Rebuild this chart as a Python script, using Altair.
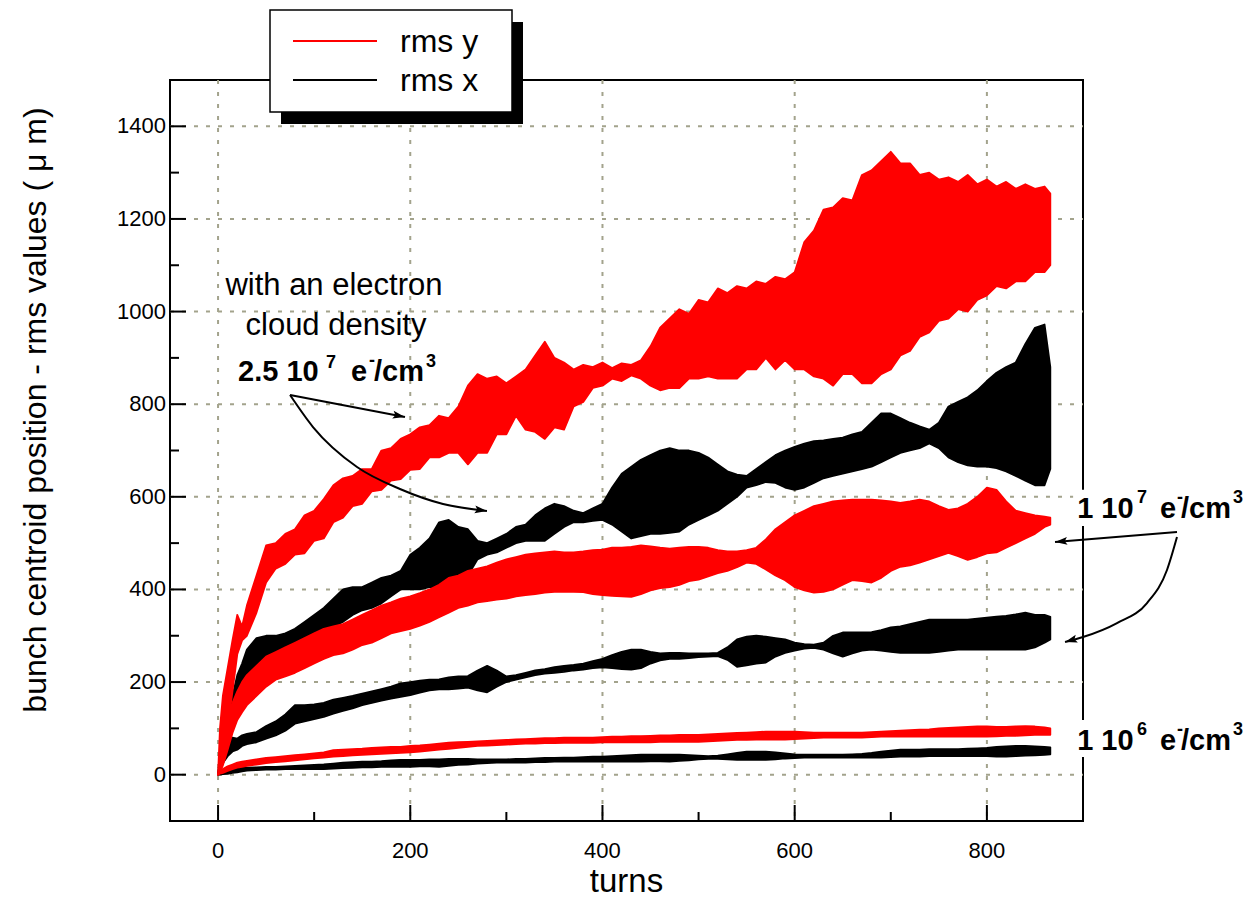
import altair as alt
import pandas as pd

FONT = "Liberation Sans, Arial, sans-serif"
GRID = "#a3a38c"

# ---------------- data ----------------
turns = [0, 2, 5, 10, 15, 20, 25, 30] + list(range(40, 861, 10)) + [866]

# rms y, 2.5e7 e-/cm3 (red, upper band)
ry25_hi = [0, 100, 170, 230, 290, 345, 320, 365,
           430, 495, 500, 520, 530, 560, 570, 595, 625, 640,
           645, 660, 660, 700, 705, 725, 735, 750, 755, 775,
           770, 795, 840, 865, 855, 860, 845, 860, 875, 905,
           935, 900, 890, 875, 885, 880, 890, 878, 888, 885,
           895, 925, 965, 985, 1005, 995, 1025, 1020, 1050, 1040,
           1055, 1050, 1065, 1060, 1075, 1070, 1085, 1150, 1175, 1220,
           1225, 1245, 1240, 1295, 1305, 1325, 1345, 1320, 1320, 1295,
           1300, 1285, 1290, 1280, 1295, 1275, 1285, 1270, 1280, 1265,
           1275, 1265, 1270, 1255]
ry25_lo = [0, 40, 70, 100, 180, 260, 290, 300,
           350, 415, 445, 455, 475, 478, 505, 510, 545, 555,
           580, 585, 612, 615, 635, 638, 658, 660, 685, 685,
           695, 695, 670, 695, 695, 735, 735, 775, 745, 740,
           725, 750, 745, 795, 805, 835, 840, 855, 850, 862,
           855, 840, 830, 835, 835, 855, 855, 860, 855, 855,
           855, 875, 875, 900, 875, 895, 875, 875, 860, 855,
           840, 865, 865, 845, 845, 865, 875, 905, 915, 945,
           955, 980, 985, 1005, 1000, 1025, 1035, 1055, 1050, 1065,
           1065, 1085, 1085, 1100]

# rms x, 2.5e7 (black, upper band)
rx25_hi = [0, 40, 80, 130, 170, 215, 240, 270,
           295, 300, 300, 305, 315, 330, 345, 360, 380, 400,
           405, 405, 415, 425, 430, 440, 475, 490, 510, 545,
           550, 535, 530, 505, 500, 510, 520, 535, 540, 560,
           575, 585, 580, 570, 565, 575, 585, 620, 650, 665,
           680, 690, 700, 705, 700, 700, 695, 685, 670, 655,
           648, 645, 660, 675, 690, 700, 708, 715, 720, 722,
           725, 728, 735, 740, 760, 780, 780, 770, 760, 752,
           745, 760, 795, 805, 815, 830, 850, 868, 880, 890,
           930, 965, 972, 880]
rx25_lo = [0, 10, 25, 50, 100, 145, 170, 200,
           225, 250, 260, 268, 275, 290, 305, 315, 320, 330,
           345, 355, 360, 370, 385, 400, 400, 400, 405, 405,
           408, 420, 430, 465, 475, 480, 490, 500, 505, 505,
           505, 520, 535, 545, 545, 548, 550, 540, 525, 510,
           515, 520, 520, 522, 525, 540, 550, 560, 570, 585,
           600, 620, 625, 632, 630, 620, 615, 620, 630, 640,
           645, 650, 655, 660, 665, 675, 685, 695, 700, 705,
           715, 705, 685, 675, 668, 665, 665, 662, 655, 645,
           635, 625, 625, 660]

# rms y, 1e7 (red, middle band)
ry10_hi = [0, 25, 60, 125, 155, 180, 200, 215,
           235, 255, 265, 275, 285, 295, 305, 315, 320, 325,
           335, 345, 355, 365, 372, 380, 385, 392, 400, 410,
           425, 430, 440, 445, 450, 458, 465, 470, 475, 478,
           480, 482, 480, 480, 482, 485, 486, 490, 490, 492,
           495, 493, 490, 488, 490, 492, 492, 490, 485, 482,
           482, 485, 490, 508, 530, 545, 560, 570, 580, 585,
           590, 592, 594, 594, 594, 592, 590, 587, 590, 594,
           590, 580, 572, 575, 585, 600, 620, 615, 590, 570,
           565, 560, 557, 555]
ry10_lo = [0, 5, 20, 54, 90, 118, 135, 150,
           170, 190, 205, 212, 220, 230, 240, 250, 258, 262,
           270, 280, 285, 295, 305, 310, 315, 322, 330, 340,
           350, 360, 365, 372, 375, 378, 380, 385, 388, 390,
           393, 395, 395, 395, 394, 390, 388, 386, 385, 384,
           390, 398, 403, 405, 410, 418, 421, 428, 435, 440,
           448, 458, 455, 443, 430, 420, 405, 398, 393, 395,
           400, 410, 420, 418, 415, 425, 440, 449, 452, 458,
           465, 472, 479, 472, 464, 470, 478, 480, 490, 500,
           510, 520, 535, 540]

# rms x, 1e7 (black, middle band)
rx10_hi = [0, 39, 55, 76, 80, 78, 85, 88,
           92, 105, 115, 130, 150, 150, 152, 155, 162, 166,
           170, 175, 180, 185, 190, 197, 200, 203, 205, 206,
           210, 212, 213, 225, 235, 225, 212, 215, 220, 225,
           228, 232, 235, 237, 240, 245, 250, 258, 265, 270,
           270, 265, 262, 263, 263, 262, 262, 262, 263, 275,
           292, 298, 300, 298, 295, 292, 285, 282, 281, 285,
           300, 307, 307, 307, 308, 312, 318, 320, 325, 330,
           335, 335, 335, 335, 335, 337, 339, 341, 343, 346,
           350, 345, 345, 341]
rx10_lo = [0, 11, 25, 40, 50, 54, 62, 66,
           70, 78, 85, 95, 110, 115, 120, 125, 132, 138,
           143, 150, 155, 160, 164, 168, 172, 177, 182, 184,
           184, 186, 188, 182, 178, 190, 200, 205, 210, 215,
           218, 220, 222, 225, 227, 230, 232, 230, 228, 227,
           230, 240, 247, 250, 250, 252, 254, 255, 256, 248,
           233, 236, 240, 242, 255, 263, 268, 272, 274, 270,
           262, 255, 262, 268, 270, 268, 265, 263, 263, 263,
           263, 265, 268, 270, 270, 270, 270, 270, 270, 270,
           270, 275, 285, 292]

# rms y, 1e6 (red, lower band)
ry06_hi = [0, 8, 12, 18, 22, 26, 28, 30,
           33, 36, 38, 40, 42, 44, 46, 48, 53, 54,
           55, 56, 58, 59, 60, 60, 62, 63, 65, 67,
           69, 70, 71, 72, 73, 74, 75, 76, 77, 78,
           79, 79, 80, 80, 80, 80, 81, 82, 82, 83,
           83, 84, 85, 85, 86, 86, 86, 87, 88, 89,
           90, 91, 92, 93, 93, 93, 93, 92, 91, 91,
           91, 91, 91, 91, 92, 93, 94, 95, 96, 97,
           98, 100, 101, 102, 103, 104, 104, 103, 103, 104,
           105, 104, 102, 100]
ry06_lo = [0, 2, 4, 8, 12, 15, 17, 19,
           22, 25, 27, 29, 31, 33, 35, 37, 39, 40,
           42, 43, 44, 45, 46, 47, 48, 50, 52, 54,
           56, 58, 60, 62, 63, 64, 65, 66, 67, 67,
           68, 68, 69, 69, 69, 69, 70, 70, 70, 70,
           70, 70, 71, 71, 71, 71, 71, 72, 73, 74,
           75, 75, 76, 76, 76, 76, 77, 78, 79, 80,
           80, 80, 80, 80, 81, 82, 82, 82, 82, 82,
           82, 82, 82, 82, 82, 82, 82, 83, 84, 84,
           85, 86, 86, 86]

# rms x, 1e6 (black, lower band)
rx06_hi = [0, 4, 6, 9, 12, 14, 15, 15,
           16, 17, 17, 18, 19, 20, 21, 22, 24, 26,
           27, 28, 28, 29, 31, 32, 32, 32, 33, 33,
           34, 34, 34, 33, 33, 33, 33, 34, 34, 35,
           36, 36, 37, 37, 38, 39, 39, 40, 41, 42,
           43, 43, 43, 43, 43, 42, 41, 40, 41, 44,
           47, 50, 50, 50, 48, 46, 44, 43, 43, 43,
           43, 43, 44, 45, 47, 50, 52, 54, 54, 54,
           55, 55, 55, 55, 56, 57, 58, 60, 61, 62,
           62, 61, 60, 59]
rx06_lo = [0, 0, 1, 2, 4, 5, 7, 9,
           10, 11, 11, 12, 12, 12, 12, 12, 13, 14,
           15, 16, 16, 17, 17, 17, 17, 18, 18, 17,
           19, 21, 22, 24, 25, 26, 26, 26, 26, 27,
           27, 28, 28, 28, 28, 28, 28, 28, 28, 28,
           28, 29, 29, 28, 30, 31, 33, 34, 34, 33,
           32, 32, 32, 32, 33, 35, 36, 37, 37, 37,
           37, 37, 37, 37, 37, 37, 38, 39, 39, 39,
           40, 40, 40, 40, 40, 40, 40, 39, 39, 40,
           41, 42, 43, 44]

x_major = [0, 200, 400, 600, 800]
x_minor = [100, 300, 500, 700]
y_major = [0, 200, 400, 600, 800, 1000, 1200, 1400]
y_minor = [100, 300, 500, 700, 900, 1100, 1300]
x_title = "turns"
y_title = "bunch centroid position - rms values  ( \u03bc m)"

legend_labels = ["rms y", "rms x"]
legend_colors = ["#ff0000", "#000000"]

# annotation texts (anchor positions in data units)
note_txt = ["with an electron", "cloud density"]
note_t = [120.6, 122.7]
note_v = [1036, 949]

bold_txt = ["2.5 10", "e", "/cm", "1 10", "e", "/cm", "1 10", "e", "/cm"]
bold_t = [20.8, 138.3, 162.3, 893.9, 980.1, 1002.0, 893.9, 980.1, 1002.0]
bold_v = [850, 850, 850, 554, 554, 554, 53, 53, 53]

sup_txt = ["7", "-", "3", "7", "-", "3", "6", "-", "3"]
sup_t = [112.3, 157.1, 216.4, 956.2, 997.8, 1056.1, 956.2, 997.8, 1056.1]
sup_v = [878, 882, 880, 587, 587, 587, 86, 86, 86]

# white label boxes behind the right-hand notes (data units)
box_t = [889.7, 889.7]
box_t2 = [1078, 1078]
box_v = [537, 38]
box_v2 = [615, 118]

# arrows (paths in data units)
arrow_id = ["a1", "a1", "a2", "a2", "a2", "a2", "a2", "a2",
            "a3", "a3", "a4", "a4", "a4", "a4", "a4", "a4"]
arrow_t = [74.9, 194.5, 74.9, 98.8, 144.6, 189.3, 234.1, 279.8,
           997.8, 870.9, 997.8, 987.4, 966.6, 935.4, 900.0, 881.3]
arrow_v = [819.8, 772.3, 819.8, 750.7, 664.4, 616.9, 584.5, 569.4,
           524.0, 502.4, 513.2, 442.0, 370.7, 327.5, 297.3, 286.5]
head_t = [194.5, 279.8, 870.9, 881.3]
head_v = [772.3, 569.4, 502.4, 286.5]
head_ang = [10.8, 8.0, 175.0, 164.0]

# ---------------- tables ----------------
series = [
    ("x25", "rms x", rx25_hi, rx25_lo),
    ("x10", "rms x", rx10_hi, rx10_lo),
    ("x06", "rms x", rx06_hi, rx06_lo),
    ("y25", "rms y", ry25_hi, ry25_lo),
    ("y10", "rms y", ry10_hi, ry10_lo),
    ("y06", "rms y", ry06_hi, ry06_lo),
]
rows = []
for sid, comp, hi, lo in series:
    assert len(hi) == len(turns) and len(lo) == len(turns), sid
    for t, h, l in zip(turns, hi, lo):
        rows.append({"series": sid, "comp": comp, "turns": t, "hi": h, "lo": l})
df = pd.DataFrame(rows)

XS = alt.Scale(domain=[-50, 900], nice=False, zero=False)
YS = alt.Scale(domain=[-100, 1500], nice=False, zero=False)
W, H = 913, 741


def X(field):
    return alt.X(field, scale=XS, axis=None)


def Y(field):
    return alt.Y(field, scale=YS, axis=None)


one = pd.DataFrame({"k": [0]})
xmaj = pd.DataFrame({"v": x_major, "lab": [str(v) for v in x_major]})
ymaj = pd.DataFrame({"v": y_major, "lab": [str(v) for v in y_major]})

# grid (dotted, drawn first so the data sit on top)
grid_v = alt.Chart(xmaj).mark_rule(color=GRID, strokeWidth=2, strokeDash=[4, 8]).encode(
    x=X("v:Q"), y=alt.value(0), y2=alt.value(H))
grid_h = alt.Chart(ymaj).mark_rule(color=GRID, strokeWidth=2, strokeDash=[4, 8]).encode(
    y=Y("v:Q"), x=alt.value(0), x2=alt.value(W))


def band(comp, color):
    return alt.Chart(df[df["comp"] == comp]).mark_area(
        color=color, stroke=color, strokeWidth=1.8, opacity=1, strokeJoin="round"
    ).encode(x=X("turns:Q"), y=Y("lo:Q"), y2="hi:Q", detail="series:N")


black_band = band("rms x", "#000000")
red_band = band("rms y", "#ff0000")


def yticks(vals, length):
    return alt.Chart(pd.DataFrame({"v": vals})).mark_rule(color="black", strokeWidth=2).encode(
        y=Y("v:Q"), x=alt.value(0), x2=alt.value(length))


def xticks(vals, length):
    return alt.Chart(pd.DataFrame({"v": vals})).mark_rule(color="black", strokeWidth=2).encode(
        x=X("v:Q"), y=alt.value(H), y2=alt.value(H - length))


xlabels = alt.Chart(xmaj).mark_text(
    align="center", baseline="top", fontSize=22, font=FONT, color="black"
).encode(x=X("v:Q"), y=alt.value(H + 20), text="lab:N")
ylabels = alt.Chart(ymaj).mark_text(
    align="right", baseline="middle", fontSize=22, font=FONT, color="black"
).encode(y=Y("v:Q"), x=alt.value(-4), text="lab:N")
xtitle = alt.Chart(one).mark_text(
    align="center", baseline="alphabetic", fontSize=33, font=FONT, color="black"
).encode(x=alt.value(W / 2), y=alt.value(H + 71), text=alt.value(x_title))
ytitle = alt.Chart(one).mark_text(
    align="center", baseline="middle", fontSize=32, font=FONT, color="black", angle=270
).encode(x=alt.value(-134), y=alt.value(330), text=alt.value(y_title))

leg_shadow = alt.Chart(one).mark_rect(color="black").encode(
    x=alt.value(111), x2=alt.value(353), y=alt.value(-58), y2=alt.value(44))
leg_box = alt.Chart(one).mark_rect(fill="white", stroke="black", strokeWidth=1.5).encode(
    x=alt.value(100), x2=alt.value(342), y=alt.value(-70), y2=alt.value(32))
leg_layers = []
for i, (lab, col) in enumerate(zip(legend_labels, legend_colors)):
    yy = -39 + 39 * i
    leg_layers.append(alt.Chart(one).mark_rule(color=col, strokeWidth=2).encode(
        x=alt.value(123), x2=alt.value(207), y=alt.value(yy)))
    leg_layers.append(alt.Chart(one).mark_text(
        align="left", baseline="middle", fontSize=32, font=FONT, color="black"
    ).encode(x=alt.value(230), y=alt.value(yy + 1), text=alt.value(lab)))

boxes = alt.Chart(pd.DataFrame({"t": box_t, "t2": box_t2, "v": box_v, "v2": box_v2})).mark_rect(
    color="white", opacity=1
).encode(x=X("t:Q"), x2="t2:Q", y=Y("v:Q"), y2="v2:Q")

notes = alt.Chart(pd.DataFrame({"t": note_t, "v": note_v, "txt": note_txt})).mark_text(
    align="center", baseline="alphabetic", fontSize=31, font=FONT, color="black"
).encode(x=X("t:Q"), y=Y("v:Q"), text="txt:N")

bold = alt.Chart(pd.DataFrame({"t": bold_t, "v": bold_v, "txt": bold_txt})).mark_text(
    align="left", baseline="alphabetic", fontSize=29, fontWeight="bold", font=FONT, color="black"
).encode(x=X("t:Q"), y=Y("v:Q"), text="txt:N")

sups = alt.Chart(pd.DataFrame({"t": sup_t, "v": sup_v, "txt": sup_txt})).mark_text(
    align="left", baseline="alphabetic", fontSize=18, fontWeight="bold", font=FONT, color="black"
).encode(x=X("t:Q"), y=Y("v:Q"), text="txt:N")

arrows = alt.Chart(pd.DataFrame({"id": arrow_id, "t": arrow_t, "v": arrow_v})).mark_line(
    color="black", strokeWidth=2, interpolate="monotone"
).encode(x=X("t:Q"), y=Y("v:Q"), detail="id:N")

ARROW = "M0,0L-1,-0.32L-0.8,0L-1,0.32Z"
heads = alt.Chart(pd.DataFrame({"t": head_t, "v": head_v, "ang": head_ang})).mark_point(
    shape=ARROW, filled=True, color="black", size=600, opacity=1, strokeWidth=0
).encode(x=X("t:Q"), y=Y("v:Q"), angle=alt.Angle("ang:Q", scale=None))

chart = alt.layer(
    grid_v, grid_h, black_band, red_band,
    yticks(y_major, 16), yticks(y_minor, 9), xticks(x_major, 16), xticks(x_minor, 9),
    xlabels, ylabels, xtitle, ytitle,
    boxes, arrows, heads, notes, bold, sups,
    leg_shadow, leg_box, *leg_layers,
).properties(
    width=W, height=H,
    autosize=alt.AutoSizeParams(type="none"),
    padding={"left": 162, "top": 72, "right": 166, "bottom": 90},
).configure_view(stroke="black", strokeWidth=2)

chart.save("out.html", embed_options={"renderer": "svg", "actions": False})
